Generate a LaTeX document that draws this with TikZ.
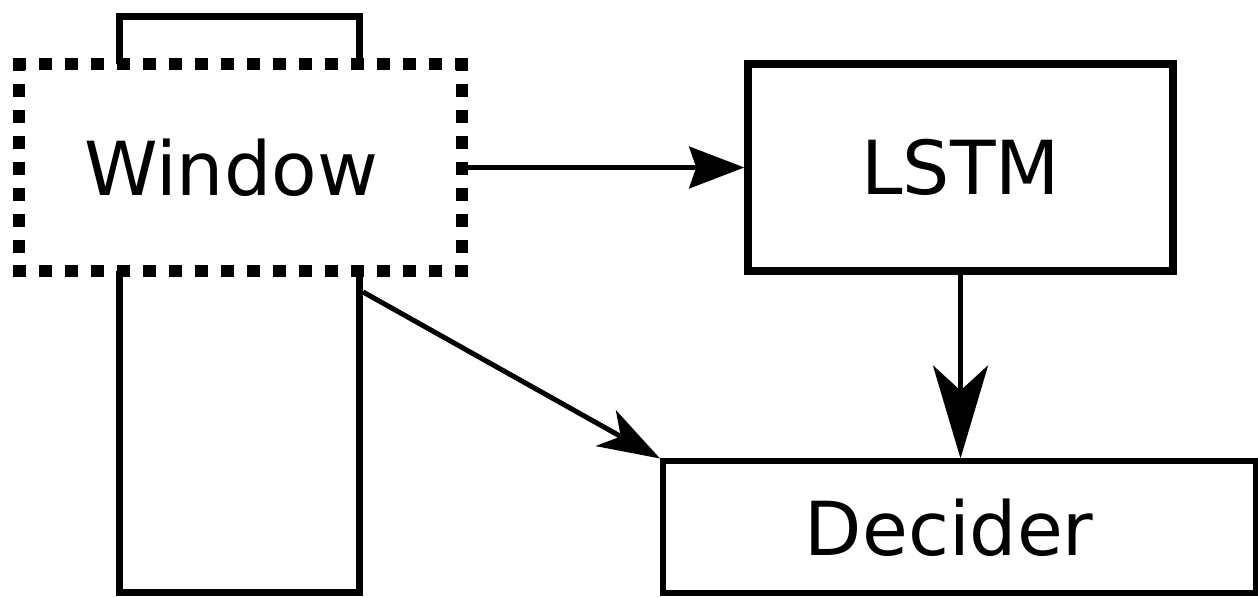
\documentclass[tikz,border=0pt]{standalone}
\usepackage{fontspec}
\setmainfont{DejaVu Sans}
\usetikzlibrary{arrows.meta}

\tikzset{
  % one unit = one pixel of the final image, y pointing down
  box/.style={draw=black, fill=white, inner sep=0pt, font=\fontsize{37.25}{44}\selectfont},
  nudge/.style={execute at begin node={\hspace*{#1}}},
  dashside/.style={draw=black, line width=6pt, line cap=butt, dash pattern=on 6.5pt off 6.5pt},
  conn/.style={draw=black, line width=2.5pt},
}

\begin{document}
\begin{tikzpicture}[x=0.5pt, y=-0.5pt]
  \useasboundingbox (0,0) rectangle (1258,597);

  % tall stream behind the window
  \node[draw=black, line width=3.5pt, inner sep=0pt,
        minimum width=120.25pt, minimum height=288.25pt] (stream) at (239.25,304.75) {};

  % sliding window: white frame with dotted sides
  \node[fill=white, inner sep=0pt, outer sep=0pt,
        minimum width=221.25pt, minimum height=103.5pt] (win) at (240.25,167.5) {};
  \draw[dashside] ([xshift=-3pt]win.north west) -- ([xshift=3pt]win.north east);
  \draw[dashside] ([xshift=-3pt]win.south west) -- ([xshift=3pt]win.south east);
  \draw[dashside] ([yshift=3pt]win.north west) -- ([yshift=-3pt]win.south west);
  \draw[dashside] ([yshift=3pt]win.north east) -- ([yshift=-3pt]win.south east);
  \node[font=\fontsize{37.25}{44}\selectfont, inner sep=0pt] (wintext) at (231,167.5) {Window};

  % processing blocks
  \node[box, line width=3.75pt, minimum width=212.5pt, minimum height=103.5pt]
        (lstm) at (960.5,167.5) {LSTM};
  \node[box, line width=3pt, minimum width=296.25pt, minimum height=66pt, nudge=-10pt]
        (dec) at (959.25,527.5) {Decider};

  % connections
  \draw[conn, -{Stealth[length=27.5pt, width=20.8pt, inset=3.5pt]}]
        (win.east) -- (win.east -| lstm.west);
  \draw[conn, -{Stealth[length=46.5pt, width=27.5pt, inset=12.5pt]}]
        (lstm.south) -- (lstm.south |- dec.north);
  \draw[conn, -{Stealth[length=31pt, width=20.5pt, inset=8.5pt]}]
        ([yshift=6.4pt]stream.east) -- (dec.north west);
\end{tikzpicture}
\end{document}
